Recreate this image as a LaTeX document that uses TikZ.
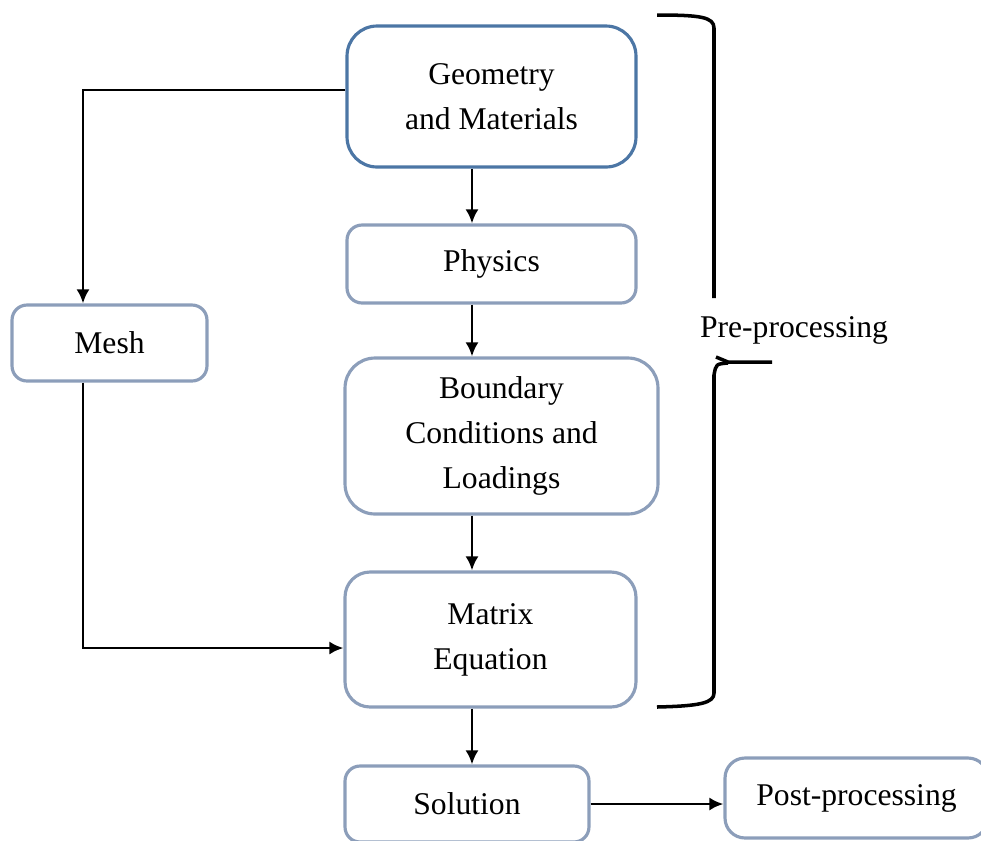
\documentclass[tikz,border=0pt]{standalone}
\usepackage{fontspec}
\setmainfont{Liberation Serif}
\usetikzlibrary{arrows.meta}
\definecolor{boxblue}{HTML}{4C76A5}
\definecolor{boxgray}{HTML}{8C9EBA}
\tikzset{
    stepbox/.style={draw=boxgray, line width=1.8pt, rounded corners=0.3cm,
        align=center, inner sep=0pt},
    flow/.style={->, black, line width=1.6pt},
    brace/.style={black, line width=2pt}
}
\begin{document}
\begin{tikzpicture}[x=0.02cm, y=-0.02cm, >={Latex[length=8pt,width=7.5pt]},
        every node/.style={font=\fontsize{18}{25.5}\selectfont}]
    \useasboundingbox (0,0) rectangle (981,840);

        \node[stepbox, draw=boxblue, rounded corners=0.6cm, minimum width=5.78cm, minimum height=2.82cm]
            (geo) at (491.5,96.5) {Geometry\\and Materials};
        \node[stepbox, minimum width=5.78cm, minimum height=1.56cm]
            (phys) at (491.5,264) {Physics};
        \node[stepbox, minimum width=3.9cm, minimum height=1.52cm]
            (mesh) at (109.5,343) {Mesh};
        \node[stepbox, rounded corners=0.6cm, minimum width=6.26cm, minimum height=3.12cm]
            (bound) at (501.5,436) {Boundary\\Conditions and\\Loadings};
        \node[stepbox, rounded corners=0.5cm, minimum width=5.82cm, minimum height=2.7cm]
            (matrix) at (490.5,639.5) {Matrix\\Equation};
        \node[stepbox, minimum width=4.88cm, minimum height=1.52cm]
            (sol) at (467,804) {Solution};
        \node[stepbox, rounded corners=0.4cm, minimum width=5.26cm, minimum height=1.6cm]
            (post) at (856.5,798) {Post-processing};
        \node (pre) at (794,330) {Pre-processing};

        \coordinate (axis) at (472,0);
        \coordinate (left) at (83,0);

        \draw[flow] (geo.south -| axis) -- (phys.north -| axis);
        \draw[flow] (phys.south -| axis) -- (bound.north -| axis);
        \draw[flow] (bound.south -| axis) -- (matrix.north -| axis);
        \draw[flow] (matrix.south -| axis) -- (sol.north -| axis);
        \draw[flow] (sol.east) -- (post.west |- sol.east);

        \draw[flow] ([yshift=0.13cm]geo.west) -| (mesh.north -| left);
        \draw[flow] (mesh.south -| left) |- ([yshift=-0.17cm]matrix.west);

        % brace
        \draw[brace] (657,15) .. controls (700,15) and (714,17) .. (714,28) -- (714,298);
        \draw[brace] (772,362) -- (728,362) -- (716,357);
        \draw[brace] (728,363) .. controls (716,364) .. (714,375) -- (714,693)
            .. controls (714,703) and (700,706) .. (657,707);
    \end{tikzpicture}
\end{document}
